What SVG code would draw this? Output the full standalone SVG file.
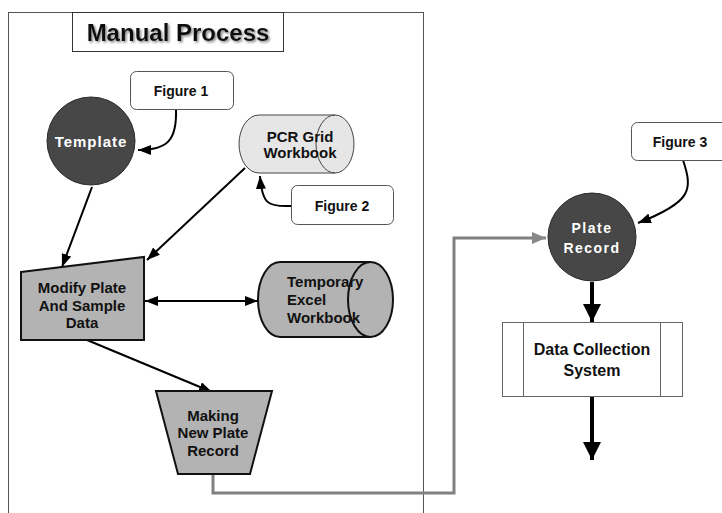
<svg xmlns="http://www.w3.org/2000/svg" width="722" height="513" viewBox="0 0 722 513">
  <style>
    text { font-family: "Liberation Sans", Arial, sans-serif; font-weight: bold; text-anchor: middle; }
    .frame { fill: none; stroke: #555; stroke-width: 1; }
    .note { fill: #fff; stroke: #555; stroke-width: 1; }
    .note-t { font-size: 14px; fill: #111; }
    .dark { fill: #474747; stroke: #2a2a2a; stroke-width: 1; }
    .white-t { fill: #fff; }
    .grey-shape { fill: #b3b3b3; stroke: #111; stroke-width: 2; }
    .light-shape { fill: #e6e6e6; stroke: #444; stroke-width: 1; }
    .lbl { font-size: 15px; fill: #111; }
    .conn { fill: none; stroke: #000; stroke-width: 2; }
    .thick { fill: none; stroke: #000; stroke-width: 4; }
    .grey-conn { fill: none; stroke: #808080; stroke-width: 3; }
  </style>
  <defs>
    <filter id="shadow" x="-10%" y="-30%" width="120%" height="160%">
      <feDropShadow dx="1.5" dy="1.5" stdDeviation="0.8" flood-color="#777" flood-opacity="0.9"/>
    </filter>
    <marker id="arr" markerUnits="userSpaceOnUse" markerWidth="13" markerHeight="10" refX="13" refY="5" orient="auto-start-reverse">
      <path d="M0,0 L13,5 L0,10 z" fill="#000"/>
    </marker>
    <marker id="arrBig" markerUnits="userSpaceOnUse" markerWidth="18" markerHeight="18" refX="18" refY="9" orient="auto">
      <path d="M0,0 L18,9 L0,18 z" fill="#000"/>
    </marker>
    <marker id="arrGrey" markerUnits="userSpaceOnUse" markerWidth="14" markerHeight="12" refX="14" refY="6" orient="auto">
      <path d="M0,0 L14,6 L0,12 z" fill="#888"/>
    </marker>
  </defs>

  <!-- outer frame and title -->
  <g id="manual-process">
    <rect class="frame" x="8.5" y="12.5" width="415" height="520"/>
    <rect x="72.5" y="12.5" width="211" height="39" fill="#fff" stroke="#333" stroke-width="1"/>
    <text x="178" y="41" font-size="24" fill="#111" filter="url(#shadow)">Manual Process</text>
  </g>

  <!-- connectors -->
  <g id="connectors">
    <path class="conn" d="M176,109 C177,140 168,150 138,150" marker-end="url(#arr)"/>
    <path class="conn" d="M291,206 C268,207 262,204 260,176" marker-end="url(#arr)"/>
    <path class="conn" d="M92,187 L62,267" marker-end="url(#arr)"/>
    <path class="conn" d="M245,168 L147,260" marker-end="url(#arr)"/>
    <path class="conn" d="M145,301 L258,301" marker-start="url(#arr)" marker-end="url(#arr)"/>
    <path class="conn" d="M87,340 L212,392" marker-end="url(#arr)"/>
    <path class="grey-conn" d="M213,474 V493 H454 V238 H546" marker-end="url(#arrGrey)"/>
    <path class="conn" d="M683,160 C693,190 692,202 638,223" marker-end="url(#arr)"/>
    <path class="thick" d="M592,282 V322" marker-end="url(#arrBig)"/>
    <path class="thick" d="M592,396 V460" marker-end="url(#arrBig)"/>
  </g>

  <g id="figure-1">
    <rect class="note" x="130.5" y="71.5" width="103" height="38" rx="6"/>
    <text class="note-t" x="181" y="96">Figure 1</text>
  </g>

  <g id="template">
    <circle class="dark" cx="91" cy="141" r="44"/>
    <text class="white-t" x="91" y="147" font-size="15" letter-spacing="1">Template</text>
  </g>

  <g id="pcr-grid-workbook">
    <path class="light-shape" d="M259,115 H335 A19,29 0 0 1 335,173 H259 A20,29 0 0 1 259,115 Z"/>
    <path fill="none" stroke="#444" stroke-width="1" d="M335,115 A19,29 0 0 0 335,173"/>
    <text class="lbl" x="300" y="142">PCR Grid</text>
    <text class="lbl" x="300" y="158">Workbook</text>
  </g>

  <g id="figure-2">
    <rect class="note" x="291.5" y="185.5" width="102" height="39" rx="6"/>
    <text class="note-t" x="342" y="211">Figure 2</text>
  </g>

  <g id="modify-plate">
    <polygon class="grey-shape" points="21,272 144,257 144,340 21,340"/>
    <text class="lbl" x="82" y="293">Modify Plate</text>
    <text class="lbl" x="82" y="311">And Sample</text>
    <text class="lbl" x="82" y="328">Data</text>
  </g>

  <g id="temporary-workbook">
    <path class="grey-shape" d="M280,262 H370.5 A22.5,37.5 0 0 1 370.5,337 H280 A22,37.5 0 0 1 280,262 Z"/>
    <path fill="none" stroke="#111" stroke-width="2" d="M370.5,262 A22.5,37.5 0 0 0 370.5,337"/>
    <text class="lbl" x="287" y="287" style="text-anchor:start">Temporary</text>
    <text class="lbl" x="287" y="305" style="text-anchor:start">Excel</text>
    <text class="lbl" x="287" y="323" style="text-anchor:start">Workbook</text>
  </g>

  <g id="new-plate-record">
    <polygon class="grey-shape" points="156,391 272,391 250,474 178,474"/>
    <text class="lbl" x="213" y="421" font-size="14.5">Making</text>
    <text class="lbl" x="213" y="438" font-size="14.5">New Plate</text>
    <text class="lbl" x="213" y="456" font-size="14.5">Record</text>
  </g>

  <g id="figure-3">
    <rect class="note" x="631.5" y="122.5" width="100" height="38" rx="6"/>
    <text class="note-t" x="680" y="147">Figure 3</text>
  </g>

  <g id="plate-record">
    <circle class="dark" cx="592" cy="237" r="44"/>
    <text class="white-t" x="592" y="233" font-size="14" letter-spacing="1.5">Plate</text>
    <text class="white-t" x="592" y="253" font-size="14" letter-spacing="1.5">Record</text>
  </g>

  <g id="data-collection">
    <rect x="502.5" y="322.5" width="180" height="74" fill="#fff" stroke="#666" stroke-width="1"/>
    <line x1="523.5" y1="322.5" x2="523.5" y2="396.5" stroke="#666" stroke-width="1"/>
    <line x1="660.5" y1="322.5" x2="660.5" y2="396.5" stroke="#666" stroke-width="1"/>
    <text x="592" y="355" font-size="16" fill="#111">Data Collection</text>
    <text x="592" y="376" font-size="16" fill="#111">System</text>
  </g>
</svg>
